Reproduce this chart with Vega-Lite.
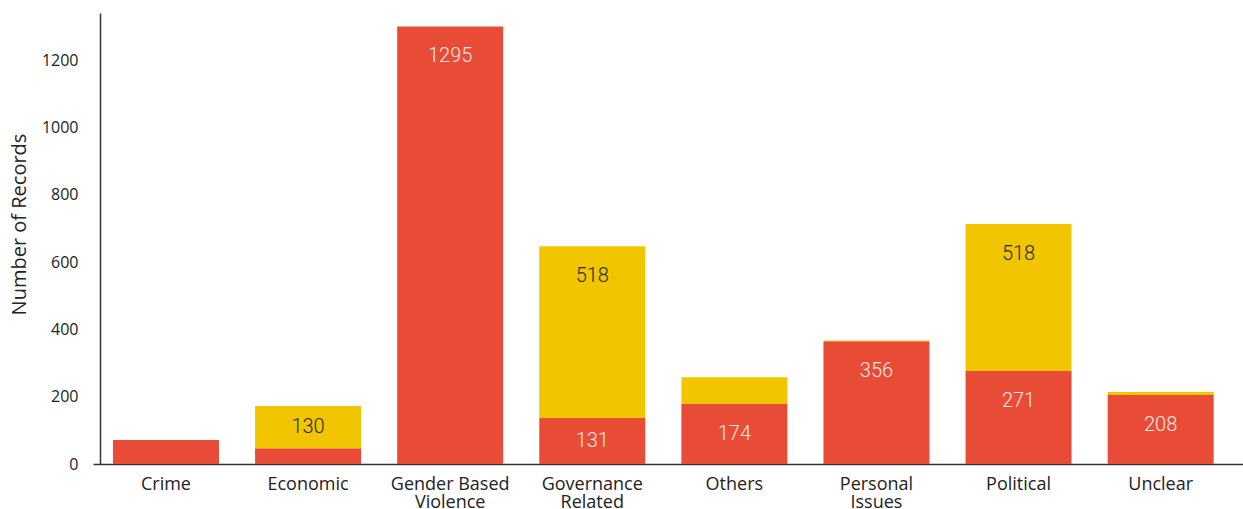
{
  "$schema": "https://vega.github.io/schema/vega-lite/v6.json",
  "autosize": {"type": "none"},
  "padding": {"left": 93, "top": 13, "right": 0, "bottom": 45},
  "width": 1150,
  "height": 451,
  "config": {"view": {"stroke": null}},
  "data": {
    "values": [
      {"category": "Crime", "segment": "lower", "records": 71, "label": null},
      {"category": "Economic", "segment": "lower", "records": 47, "label": null},
      {"category": "Economic", "segment": "upper", "records": 125, "label": "130"},
      {"category": "Gender Based Violence", "segment": "lower", "records": 1300, "label": "1295"},
      {"category": "Governance Related", "segment": "lower", "records": 137, "label": "131"},
      {"category": "Governance Related", "segment": "upper", "records": 510, "label": "518"},
      {"category": "Others", "segment": "lower", "records": 178, "label": "174"},
      {"category": "Others", "segment": "upper", "records": 80, "label": null},
      {"category": "Personal Issues", "segment": "lower", "records": 365, "label": "356"},
      {"category": "Personal Issues", "segment": "upper", "records": 2, "label": null},
      {"category": "Political", "segment": "lower", "records": 276, "label": "271"},
      {"category": "Political", "segment": "upper", "records": 437, "label": "518"},
      {"category": "Unclear", "segment": "lower", "records": 205, "label": "208"},
      {"category": "Unclear", "segment": "upper", "records": 9, "label": null}
    ]
  },
  "transform": [
    {"stack": "records", "groupby": ["category"], "sort": [{"field": "segment", "order": "ascending"}], "as": ["v0", "v1"]},
    {"calculate": "max((datum.v0 + datum.v1) / 2, datum.v1 - 88)", "as": "labelPos"}
  ],
  "encoding": {
    "x": {
      "field": "category",
      "type": "nominal",
      "sort": null,
      "scale": {"paddingInner": 0.254, "paddingOuter": 0.1735, "align": 0.405},
      "axis": {
        "title": null,
        "labelAngle": 0,
        "ticks": false,
        "domainColor": "#333333",
        "domainWidth": 1.5,
        "labelPadding": 11,
        "labelFont": "Open Sans",
        "labelFontSize": 18,
        "labelColor": "#222222",
        "labelLineHeight": 18,
        "labelBaseline": "top",
        "labelExpr": "datum.value == 'Gender Based Violence' ? ['Gender Based', 'Violence'] : (indexof(datum.value, ' ') > 0 ? split(datum.value, ' ') : datum.value)"
      }
    }
  },
  "layer": [
    {
      "mark": {"type": "bar"},
      "encoding": {
        "y": {
          "field": "v0",
          "type": "quantitative",
          "scale": {"domain": [0, 1340], "nice": false, "zero": true},
          "axis": {
            "title": "Number of Records",
            "values": [0, 200, 400, 600, 800, 1000, 1200],
            "format": "d",
            "offset": -7,
            "ticks": false,
            "grid": false,
            "domainColor": "#333333",
            "domainWidth": 1.5,
            "labelPadding": 22,
            "labelFont": "Open Sans",
            "labelFontSize": 16,
            "labelColor": "#222222",
            "titleFont": "Open Sans",
            "titleFontSize": 20,
            "titleFontWeight": "normal",
            "titleColor": "#222222",
            "titlePadding": 12,
            "titleY": 211
          }
        },
        "y2": {"field": "v1"},
        "color": {
          "field": "segment",
          "type": "nominal",
          "scale": {"domain": ["lower", "upper"], "range": ["#E84C37", "#F1C500"]},
          "legend": null
        }
      }
    },
    {
      "transform": [{"filter": "datum.label != null"}],
      "mark": {"type": "text", "font": "Roboto", "fontWeight": 300, "fontSize": 20, "baseline": "middle", "align": "center"},
      "encoding": {
        "y": {"field": "labelPos", "type": "quantitative"},
        "text": {"field": "label"},
        "color": {
          "condition": {"test": "datum.segment == 'lower'", "value": "#FDE8E4"},
          "value": "#2B2B2B"
        }
      }
    }
  ]
}
